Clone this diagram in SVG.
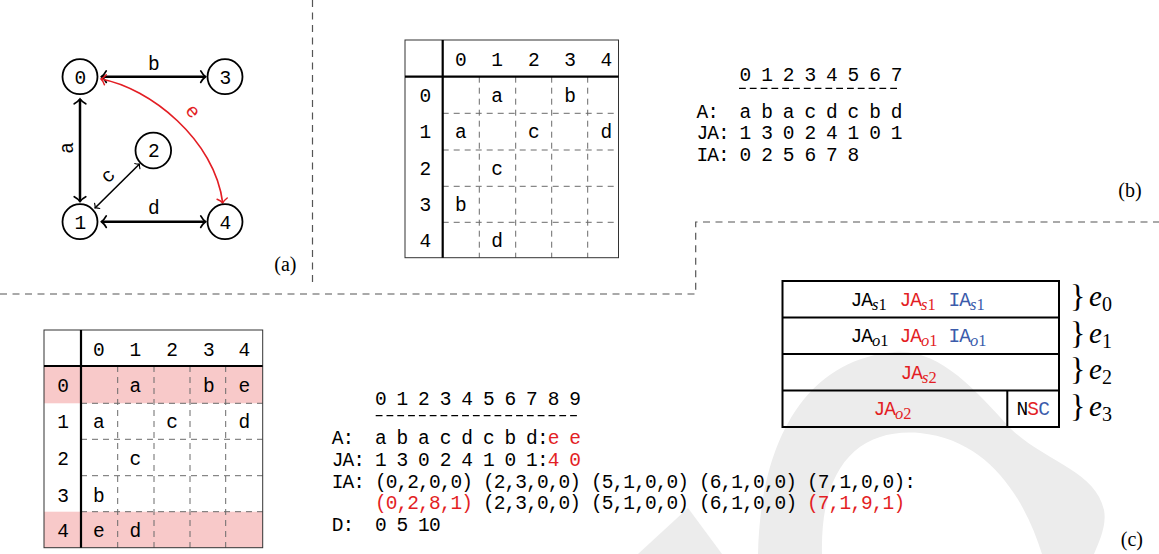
<svg xmlns="http://www.w3.org/2000/svg" width="1159" height="554" viewBox="0 0 1159 554">
<style>
.tt{font-family:"Liberation Mono","DejaVu Sans Mono",monospace;font-size:19.5px;letter-spacing:-0.9px;fill:#000}
.mid{text-anchor:middle}
.r{fill:#e31e24}
.bl{fill:#3b5bab}
.sr{font-family:"Liberation Serif",serif;font-size:16.5px;letter-spacing:0}
.si{font-family:"Liberation Serif",serif;font-size:16.5px;font-style:italic;letter-spacing:0}
.lab{font-family:"Liberation Serif",serif;font-size:20px;text-anchor:end}
.div{fill:none;stroke:#555;stroke-width:1.2;stroke-dasharray:7 5.5}
.dash{fill:none;stroke:#6b6b6b;stroke-width:1;stroke-dasharray:6 5}
.thick{fill:none;stroke:#000;stroke-width:2.2}
.border{fill:none;stroke:#333;stroke-width:1}
.node circle{fill:#fff;stroke:#000;stroke-width:1.8}
.blk{fill:none;stroke:#000;stroke-width:2}
.wm{fill:#ececec}
</style>
<defs>
<marker id="ah" viewBox="-3 -3 4 6" refX="0" refY="0" markerWidth="4" markerHeight="6" orient="auto-start-reverse" overflow="visible">
<path d="M-1.9 -2.3 C-1.2 -1 -0.4 -0.3 0 0 C-0.4 0.3 -1.2 1 -1.9 2.3" fill="none" stroke="#000" stroke-width="0.7" stroke-linecap="round"/>
</marker>
<marker id="ahr" viewBox="-3 -3 4 6" refX="0" refY="0" markerWidth="4" markerHeight="6" orient="auto-start-reverse" overflow="visible">
<path d="M-2.6 -3 C-1.7 -1.4 -0.6 -0.4 0 0 C-0.6 0.4 -1.7 1.4 -2.6 3" fill="none" stroke="#e31e24" stroke-width="0.9" stroke-linecap="round"/>
</marker>
</defs>

<g id="watermark">
<path class="wm" d="M758 554 C760 450 800 360 895 352 C940 349 975 390 1010 428 C1045 462 1095 470 1104 510 C1107 525 1099 542 1094 554 L1042 554 C1025 500 990 440 920 433 C860 428 820 465 822 554 Z"/>
<path class="wm" d="M638 554 L688 508 L722 554 Z"/>
</g>

<g id="dividers">
<path class="div" d="M312.5 0 V287"/>
<path class="div" d="M0 294 H695.7 V222 H1159"/>
</g>

<g id="connectors">
<line x1="101.5" y1="76.7" x2="205.5" y2="76.7" stroke="#000" stroke-width="2.5" marker-start="url(#ah)" marker-end="url(#ah)"/>
<line x1="80" y1="99" x2="80" y2="201.5" stroke="#000" stroke-width="2.5" marker-start="url(#ah)" marker-end="url(#ah)"/>
<line x1="101.5" y1="221.7" x2="205.5" y2="221.7" stroke="#000" stroke-width="2.5" marker-start="url(#ah)" marker-end="url(#ah)"/>
<line x1="95" y1="208" x2="139.5" y2="164" stroke="#000" stroke-width="1.6" marker-start="url(#ah)" marker-end="url(#ah)"/>
<path d="M101 79 C150 88 215 140 222.7 203" fill="none" stroke="#e31e24" stroke-width="1.7" marker-start="url(#ahr)" marker-end="url(#ahr)"/>
<text class="tt mid" x="153.3" y="70">b</text>
<text class="tt mid" x="153.3" y="214">d</text>
<text class="tt mid" transform="translate(68.3 148.3) rotate(-90)" x="0" y="5">a</text>
<text class="tt mid" transform="translate(108.3 176.7) rotate(-45)" x="0" y="5">c</text>
<text class="tt mid r" transform="translate(191.7 111.7) rotate(50)" x="0" y="5">e</text>
</g>

<g id="n0" class="node"><circle cx="80" cy="76.7" r="17.5"/><text class="tt mid" x="80" y="83.5">0</text></g>
<g id="n1" class="node"><circle cx="80" cy="221.7" r="17.5"/><text class="tt mid" x="80" y="228.5">1</text></g>
<g id="n2" class="node"><circle cx="153.3" cy="150.5" r="17.8"/><text class="tt mid" x="153.3" y="157.3">2</text></g>
<g id="n3" class="node"><circle cx="225" cy="76.7" r="17.5"/><text class="tt mid" x="225" y="83.5">3</text></g>
<g id="n4" class="node"><circle cx="225" cy="221.7" r="17.5"/><text class="tt mid" x="225" y="228.5">4</text></g>
<text class="lab" x="296.5" y="270.5">(a)</text>

<g id="matrix-b">
<path class="dash" d="M479.3 76.7V257.7M515.7 76.7V257.7M551.7 76.7V257.7M587.7 76.7V257.7"/>
<path class="dash" d="M442.7 113.3H618.5M442.7 150H618.5M442.7 186.3H618.5M442.7 222.3H618.5"/>
<rect class="border" x="405" y="40" width="213.5" height="217.7"/>
<path class="thick" d="M442.7 40V257.7M405 76.7H618.5"/>
<g class="tt mid">
<text x="460.3" y="65.5">0</text><text x="496.7" y="65.5">1</text><text x="533.3" y="65.5">2</text><text x="569.7" y="65.5">3</text><text x="606" y="65.5">4</text>
<text x="425" y="101.5">0</text><text x="425" y="138">1</text><text x="425" y="174.5">2</text><text x="425" y="211">3</text><text x="425" y="247">4</text>
<text x="496.7" y="101.5">a</text><text x="569.7" y="101.5">b</text>
<text x="460.3" y="138">a</text><text x="533.3" y="138">c</text><text x="606" y="138">d</text>
<text x="496.7" y="174.5">c</text>
<text x="460.3" y="211">b</text>
<text x="496.7" y="247">d</text>
</g>
</g>

<g id="arrays-b">
<text class="tt" x="696.4" y="81" xml:space="preserve">    0 1 2 3 4 5 6 7</text>
<line x1="739" y1="88.3" x2="898" y2="88.3" stroke="#000" stroke-width="1.2" stroke-dasharray="6.8 4"/>
<text class="tt" x="696.4" y="117.5" xml:space="preserve">A:  a b a c d c b d</text>
<text class="tt" x="696.4" y="139.1" xml:space="preserve">JA: 1 3 0 2 4 1 0 1</text>
<text class="tt" x="696.4" y="160.7" xml:space="preserve">IA: 0 2 5 6 7 8</text>
</g>
<text class="lab" x="1141.7" y="197">(b)</text>

<g id="matrix-c">
<rect x="44" y="366" width="218.7" height="37.3" fill="#f8c9c9"/>
<rect x="44" y="511.7" width="218.7" height="36" fill="#f8c9c9"/>
<path class="dash" d="M117.7 366V547.7M154 366V547.7M190 366V547.7M225.7 366V547.7"/>
<path class="dash" d="M81 403.3H262.7M81 439.3H262.7M81 475.7H262.7M81 511.7H262.7"/>
<rect class="border" x="44" y="330" width="218.7" height="217.7"/>
<path class="thick" d="M81 330V547.7M44 366H262.7"/>
<g class="tt mid">
<text x="98.3" y="355.7">0</text><text x="135" y="355.7">1</text><text x="171.7" y="355.7">2</text><text x="208.3" y="355.7">3</text><text x="244" y="355.7">4</text>
<text x="62.7" y="391.7">0</text><text x="62.7" y="428.3">1</text><text x="62.7" y="465">2</text><text x="62.7" y="501.7">3</text><text x="62.7" y="537">4</text>
<text x="135" y="391.7">a</text><text x="208.3" y="391.7">b</text><text x="244" y="391.7">e</text>
<text x="98.3" y="428.3">a</text><text x="171.7" y="428.3">c</text><text x="244" y="428.3">d</text>
<text x="135" y="465">c</text>
<text x="98.3" y="501.7">b</text>
<text x="98.3" y="537">e</text><text x="135" y="537">d</text>
</g>
</g>

<g id="arrays-c">
<text class="tt" x="331.7" y="405" xml:space="preserve">    0 1 2 3 4 5 6 7 8 9</text>
<line x1="375.7" y1="415.7" x2="579" y2="415.7" stroke="#000" stroke-width="1.2" stroke-dasharray="6.8 4"/>
<text class="tt" x="331.7" y="444.3" xml:space="preserve">A:  a b a c d c b d:<tspan class="r">e e</tspan></text>
<text class="tt" x="331.7" y="466" xml:space="preserve">JA: 1 3 0 2 4 1 0 1:<tspan class="r">4 0</tspan></text>
<text class="tt" x="331.7" y="487.7" xml:space="preserve">IA: (0,2,0,0) (2,3,0,0) (5,1,0,0) (6,1,0,0) (7,1,0,0):</text>
<text class="tt" x="331.7" y="509.3" xml:space="preserve">    <tspan class="r">(0,2,8,1)</tspan> (2,3,0,0) (5,1,0,0) (6,1,0,0) <tspan class="r">(7,1,9,1)</tspan></text>
<text class="tt" x="331.7" y="531" xml:space="preserve">D:  0 5 10</text>
</g>

<g id="blocks">
<rect class="blk" x="782.5" y="281" width="276.5" height="146"/>
<path class="blk" d="M782.5 317.5H1059M782.5 354H1059M782.5 390.5H1059M1007.3 390.5V427"/>
<text class="tt" x="850.5" y="305.5">JA<tspan class="si" dy="4">s</tspan><tspan class="sr">1</tspan></text>
<text class="tt r" x="899.5" y="305.5">JA<tspan class="si" dy="4">s</tspan><tspan class="sr">1</tspan></text>
<text class="tt bl" x="948.5" y="305.5">IA<tspan class="si" dy="4">s</tspan><tspan class="sr">1</tspan></text>
<text class="tt" x="850.5" y="342">JA<tspan class="si" dy="4">o</tspan><tspan class="sr">1</tspan></text>
<text class="tt r" x="899.5" y="342">JA<tspan class="si" dy="4">o</tspan><tspan class="sr">1</tspan></text>
<text class="tt bl" x="948.5" y="342">IA<tspan class="si" dy="4">o</tspan><tspan class="sr">1</tspan></text>
<text class="tt r" x="900.5" y="378.5">JA<tspan class="si" dy="4">s</tspan><tspan class="sr">2</tspan></text>
<text class="tt r" x="873.5" y="415">JA<tspan class="si" dy="4">o</tspan><tspan class="sr">2</tspan></text>
<text class="tt" x="1016.5" y="415">N<tspan class="r">S</tspan><tspan class="bl">C</tspan></text>
</g>

<g id="braces" font-family="Liberation Serif, serif">
<text x="1070" y="307" font-size="32">}</text>
<text x="1070" y="343.5" font-size="32">}</text>
<text x="1070" y="380" font-size="32">}</text>
<text x="1070" y="416.5" font-size="32">}</text>
<text x="1089" y="306" font-size="29" font-style="italic">e<tspan font-style="normal" font-size="20" dy="5">0</tspan></text>
<text x="1089" y="342.6" font-size="29" font-style="italic">e<tspan font-style="normal" font-size="20" dy="5">1</tspan></text>
<text x="1089" y="379.2" font-size="29" font-style="italic">e<tspan font-style="normal" font-size="20" dy="5">2</tspan></text>
<text x="1089" y="415.8" font-size="29" font-style="italic">e<tspan font-style="normal" font-size="20" dy="5">3</tspan></text>
</g>
<text class="lab" x="1143" y="545.5">(c)</text>
</svg>
